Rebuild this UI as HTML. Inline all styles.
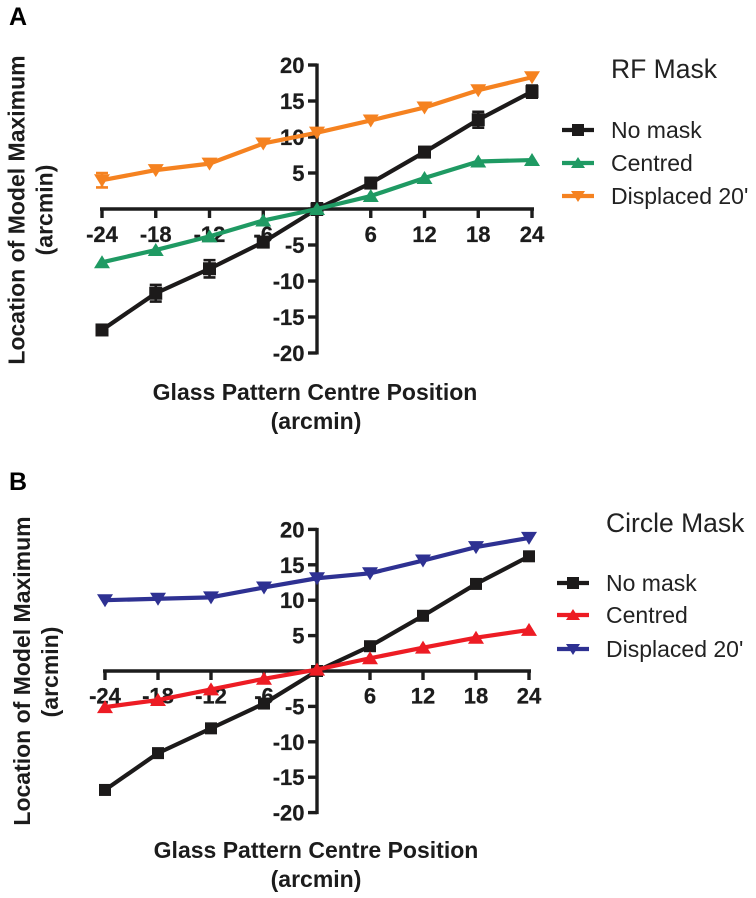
<!DOCTYPE html>
<html>
<head>
<meta charset="utf-8">
<title>Location of Model Maximum</title>
<style>
html,body{margin:0;padding:0;background:#fff;}
svg{display:block;}
text{font-family:"Liberation Sans",sans-serif;fill:#1c1c1c;}
.tick{font-weight:bold;font-size:22px;stroke:#1c1c1c;stroke-width:0.25px;}
.title{font-weight:bold;font-size:23px;}
.leg{font-size:23px;fill:#222;}
.mask{font-size:26.5px;fill:#222;}
</style>
</head>
<body>
<svg id="chart" width="756" height="898" viewBox="0 0 756 898" xmlns="http://www.w3.org/2000/svg">
  <text x="9" y="25" style="font-weight:bold;font-size:25px;fill:#000">A</text>
  <text x="9" y="490" style="font-weight:bold;font-size:25px;fill:#000">B</text>

  <text class="title" text-anchor="middle" transform="translate(24.5,210) rotate(-90)">Location of Model Maximum</text>
  <text class="title" text-anchor="middle" transform="translate(52.5,210) rotate(-90)">(arcmin)</text>
  <text class="title" text-anchor="middle" x="315" y="400">Glass Pattern Centre Position</text>
  <text class="title" text-anchor="middle" x="316" y="429">(arcmin)</text>
  <text class="mask" x="611" y="78">RF Mask</text>

  <text class="title" text-anchor="middle" transform="translate(30,671) rotate(-90)">Location of Model Maximum</text>
  <text class="title" text-anchor="middle" transform="translate(58,672) rotate(-90)">(arcmin)</text>
  <text class="title" text-anchor="middle" x="316" y="858">Glass Pattern Centre Position</text>
  <text class="title" text-anchor="middle" x="316" y="887">(arcmin)</text>
  <text class="mask" x="606" y="532">Circle Mask</text>
</svg>
<script>
var xCategories = [-24, -18, -12, -6, 0, 6, 12, 18, 24];
var yTicks = [20, 15, 10, 5, -5, -10, -15, -20];
var xTicks = [-24, -18, -12, -6, 6, 12, 18, 24];
var seriesNames = ['No mask', 'Centred', "Displaced 20'"];

var panelANoMask = [-16.8, -11.7, -8.3, -4.6, 0, 3.6, 7.9, 12.4, 16.3];
var panelACentred = [-7.4, -5.7, -3.8, -1.6, 0, 1.8, 4.3, 6.6, 6.8];
var panelADisplaced = [4.0, 5.4, 6.3, 9.1, 10.6, 12.3, 14.1, 16.5, 18.3];
var panelANoMaskErr = [0.5, 1.15, 1.2, 0.7, 0.8, 0.7, 0.7, 1.1, 0.85];
var panelACentredErr = [0, 0, 0, 0, 0, 0, 0, 0, 0];
var panelADisplacedErr = [1.0, 0, 0, 0, 0, 0, 0, 0, 0];

var panelBNoMask = [-16.8, -11.6, -8.1, -4.6, 0, 3.5, 7.8, 12.3, 16.2];
var panelBCentred = [-5.1, -4.1, -2.6, -1.1, 0.2, 1.8, 3.3, 4.7, 5.8];
var panelBDisplaced = [10.0, 10.2, 10.4, 11.8, 13.1, 13.8, 15.6, 17.5, 18.8];
var panelBNoErr = [0, 0, 0, 0, 0, 0, 0, 0, 0];

var svg = document.getElementById('chart');
var NS = 'http://www.w3.org/2000/svg';

function make(tag, attrs, parent) {
  var el = document.createElementNS(NS, tag);
  for (var k in attrs) el.setAttribute(k, attrs[k]);
  parent.appendChild(el);
  return el;
}

function drawMarker(g, shape, cx, cy, color, size) {
  var el;
  if (shape === 'square') {
    el = make('rect', {x: cx - size, y: cy - size, width: size * 2, height: size * 2, fill: color}, g);
  } else if (shape === 'up') {
    el = make('polygon', {points: (cx) + ',' + (cy - size) + ' ' + (cx + size + 1) + ',' + (cy + size - 1) + ' ' + (cx - size - 1) + ',' + (cy + size - 1), fill: color}, g);
  } else {
    el = make('polygon', {points: (cx) + ',' + (cy + size) + ' ' + (cx + size + 1) + ',' + (cy - size + 1) + ' ' + (cx - size - 1) + ',' + (cy - size + 1), fill: color}, g);
  }
  
  
}

function drawPanel(p) {
  function xs(v) { return p.x0 + (v - xCategories[0]) * (p.x1 - p.x0) / (xCategories[xCategories.length - 1] - xCategories[0]); }
  function ys(v) { return p.yZero - v * p.yPerUnit; }
  var root = make('g', {}, svg);
  
  
  var axisColor = '#1c1c1c';

  var xAxis = make('line', {x1: xs(-24) - 2, x2: xs(24) + 2, y1: ys(0), y2: ys(0), stroke: axisColor, 'stroke-width': 3.4}, root);
  
  
  var yAxis = make('line', {x1: xs(0), x2: xs(0), y1: ys(20) - 1.5, y2: ys(-20) + 1.5, stroke: axisColor, 'stroke-width': 3.4}, root);
  
  

  xTicks.concat([0]).forEach(function (v) {
    var t = make('line', {x1: xs(v), x2: xs(v), y1: ys(0), y2: ys(0) + 9, stroke: axisColor, 'stroke-width': 3.4}, root);
    
    
  });
  xTicks.forEach(function (v) {
    var l = make('text', {x: xs(v), y: ys(0) + p.xLabelOffset, 'text-anchor': 'middle', 'class': 'tick'}, root);
    l.textContent = String(v);
    
    
  });
  yTicks.concat([0]).forEach(function (v) {
    var t = make('line', {x1: xs(0) - 9, x2: xs(0), y1: ys(v), y2: ys(v), stroke: axisColor, 'stroke-width': 3.4}, root);
    
    
  });
  yTicks.forEach(function (v) {
    var l = make('text', {x: xs(0) - 12.5, y: ys(v) + 8, 'text-anchor': 'end', 'class': 'tick'}, root);
    l.textContent = String(v);
    
    
  });

  p.series.forEach(function (s, si) {
    var g = make('g', {}, root);
    
    
    s.err.forEach(function (e, i) {
      if (!e) return;
      var cx = xs(xCategories[i]);
      var top = ys(s.values[i] + e), bot = ys(s.values[i] - e);
      var bar = make('path', {d: 'M' + cx + ' ' + top + 'V' + bot + 'M' + (cx - 6) + ' ' + top + 'H' + (cx + 6) + 'M' + (cx - 6) + ' ' + bot + 'H' + (cx + 6), stroke: s.color, 'stroke-width': 2.6, fill: 'none'}, g);
      
      
    });
    var pts = s.values.map(function (v, i) { return xs(xCategories[i]) + ',' + ys(v); }).join(' ');
    var line = make('polyline', {points: pts, fill: 'none', stroke: s.color, 'stroke-width': 4.2, 'stroke-linejoin': 'round'}, g);
    
    
    s.values.forEach(function (v, i) {
      drawMarker(g, s.shape, xs(xCategories[i]), ys(v), s.color, s.shape === 'square' ? p.squareSize : 7);
    });

    var lg = make('g', {}, root);
    
    
    var ly = p.legendY[si];
    make('line', {x1: p.legendX, x2: p.legendX + 32, y1: ly, y2: ly, stroke: s.color, 'stroke-width': 4.2}, lg);
    drawMarker(lg, s.shape, p.legendX + 16, ly, s.color, 6);
    var txt = make('text', {x: p.legendX + 49, y: ly + 8, 'class': 'leg'}, lg);
    txt.textContent = seriesNames[si];
    
    
  });
}

drawPanel({
  id: 'panel-a', x0: 102, x1: 532, yZero: 209, yPerUnit: 7.2, xLabelOffset: 33, squareSize: 6.5,
  legendX: 562, legendY: [130, 163, 196],
  series: [
    {values: panelANoMask, err: panelANoMaskErr, color: '#1c1a1a', shape: 'square'},
    {values: panelACentred, err: panelACentredErr, color: '#1f9a63', shape: 'up'},
    {values: panelADisplaced, err: panelADisplacedErr, color: '#f58220', shape: 'down'}
  ]
});
drawPanel({
  id: 'panel-b', x0: 105, x1: 529, yZero: 671, yPerUnit: 7.08, xLabelOffset: 32.5, squareSize: 6,
  legendX: 557, legendY: [583, 615, 649],
  series: [
    {values: panelBNoMask, err: panelBNoErr, color: '#1c1a1a', shape: 'square'},
    {values: panelBCentred, err: panelBNoErr, color: '#ed1c24', shape: 'up'},
    {values: panelBDisplaced, err: panelBNoErr, color: '#2e3192', shape: 'down'}
  ]
});
</script>
</body>
</html>
